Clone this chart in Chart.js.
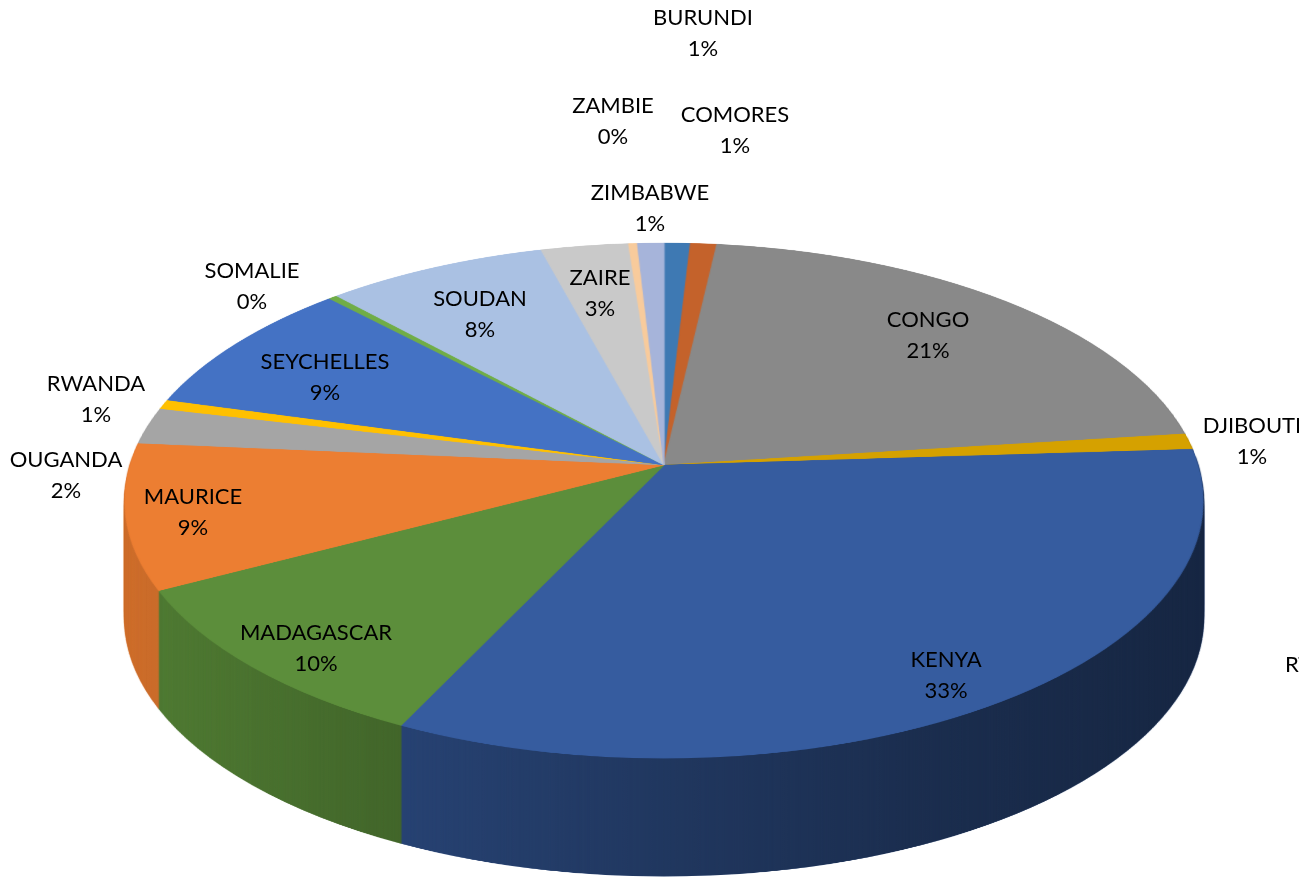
<!DOCTYPE html>
<html>
<head>
<meta charset="utf-8">
<script src="https://cdn.jsdelivr.net/npm/chart.js@4.4.1/dist/chart.umd.min.js"></script>
<style>
html,body{margin:0;padding:0;background:#ffffff;overflow:hidden;}
canvas{display:block;}
</style>
</head>
<body>
<canvas id="chart" width="1299" height="880"></canvas>
<script>
// ---------- data ----------
const countries = ['BURUNDI','COMORES','CONGO','DJIBOUTI','KENYA','MADAGASCAR','MAURICE','OUGANDA','RWANDA','SEYCHELLES','SOMALIE','SOUDAN','ZAIRE','ZAMBIE','ZIMBABWE'];
const shares    = [0.9, 0.9, 21.2, 1.0, 33.1, 10.2, 9.1, 2.3, 0.6, 8.6, 0.3, 7.6, 3.0, 0.3, 0.9];
const sliceColors = ['#3E79B3','#C4622B','#898989','#D5A100','#365C9F','#5C8E3B','#EC7E32','#A5A5A5','#FFC000','#4472C4','#70AD47','#AAC1E3','#C9C9C9','#F8CB9C','#A6B4DA'];

// ---------- label layout (centre x, first-line baseline) ----------
const labelAnchors = [[703,25],[735,122],[928,327],[1252,433],[946,667],[316,640],[193,504],[66,467],[96,391],[325,369],[252,278],[480,306],[600,285],[613,113],[650,200]];
const clippedLabel = {text:'RT', x:1285, y:672};

// ---------- projected pie geometry ----------
const PIE = {cx:664, halfWidth:539, yTop:243, yApex:465, yBottom:758, depth:118};
const R0 = 640;

const total = shares.reduce((a,b)=>a+b,0);
const pctLabels = shares.map(v => Math.round(v/total*100) + '%');

function warpDisk(src, S, W, H){
  const out = document.createElement('canvas'); out.width = W; out.height = H;
  const o = out.getContext('2d');
  o.imageSmoothingEnabled = true; o.imageSmoothingQuality = 'high';
  const B = PIE.yApex, yT = PIE.yTop, yB = PIE.yBottom;
  const C = (yB + yT - 2*B)/(yT - yB);
  const A = B - yT + yT*C;
  const alpha = PIE.halfWidth*Math.sqrt(1 - C*C);
  const vOf = y => (y - B)/(A - C*y);
  for (let y = Math.floor(yT) - 1; y <= Math.ceil(yB) + 1; y++){
    const v0 = vOf(y), v1 = vOf(y+1), vm = vOf(y+0.5);
    if (v1 < -1.01 || v0 > 1.01) continue;
    const w = 1 + C*vm;
    const sc = alpha/(w*R0);
    const a0 = Math.max(0, S/2 + v0*R0), a1 = Math.min(S, S/2 + v1*R0);
    if (a1 - a0 < 0.01) continue;
    o.drawImage(src, 0, a0, S, a1 - a0, PIE.cx - (S/2)*sc, y, S*sc, 1);
  }
  return out;
}

const pie3d = {
  id: 'pie3d',
  beforeDatasetsDraw(chart){
    const ctx = chart.ctx;
    const W = chart.width, H = chart.height;
    const arcs = chart.getDatasetMeta(0).data;
    const ref = arcs[0];
    const S = 2*R0 + 8;
    const off = document.createElement('canvas'); off.width = S; off.height = S;
    const oc = off.getContext('2d');
    oc.translate(S/2, S/2);
    oc.scale(R0/ref.outerRadius, R0/ref.outerRadius);
    oc.translate(-ref.x, -ref.y);
    arcs.forEach(a => a.draw(oc));
    const top = warpDisk(off, S, W, H);

    // shading mask for side walls
    const shade = document.createElement('canvas'); shade.width = W; shade.height = H;
    const sh = shade.getContext('2d');
    for (let d = PIE.depth; d >= 1; d--) sh.drawImage(top, 0, d);
    sh.globalCompositeOperation = 'source-in';
    const g = sh.createLinearGradient(PIE.cx - PIE.halfWidth, 0, PIE.cx + PIE.halfWidth, 0);
    g.addColorStop(0, 'rgb(224,224,224)');
    g.addColorStop(0.25, 'rgb(184,184,184)');
    g.addColorStop(0.5, 'rgb(153,153,153)');
    g.addColorStop(0.75, 'rgb(125,125,125)');
    g.addColorStop(1, 'rgb(107,107,107)');
    sh.fillStyle = g; sh.fillRect(0, 0, W, H);

    ctx.save();
    for (let d = PIE.depth; d >= 1; d--) ctx.drawImage(top, 0, d);
    ctx.globalCompositeOperation = 'multiply';
    ctx.drawImage(shade, 0, 0);
    ctx.globalCompositeOperation = 'source-over';
    ctx.drawImage(top, 0, 0);
    ctx.restore();
    return false;
  },
  afterDraw(chart){
    const ctx = chart.ctx;
    ctx.save();
    ctx.font = '22px Lato, "Liberation Sans", sans-serif';
    ctx.fillStyle = '#000000';
    ctx.textAlign = 'center';
    ctx.textBaseline = 'alphabetic';
    countries.forEach((name, i) => {
      const [x, y] = labelAnchors[i];
      ctx.fillText(name, x, y);
      ctx.fillText(pctLabels[i], x, y + 31);
    });
    ctx.textAlign = 'left';
    ctx.fillText(clippedLabel.text, clippedLabel.x, clippedLabel.y);
    ctx.restore();
  }
};

new Chart(document.getElementById('chart'), {
  type: 'pie',
  data: {
    labels: countries,
    datasets: [{
      data: shares,
      backgroundColor: sliceColors,
      borderColor: sliceColors,
      borderWidth: 1
    }]
  },
  options: {
    responsive: false,
    devicePixelRatio: 1,
    animation: false,
    layout: {padding: 20},
    plugins: {legend: {display: false}, tooltip: {enabled: false}}
  },
  plugins: [pie3d]
});
</script>
</body>
</html>
